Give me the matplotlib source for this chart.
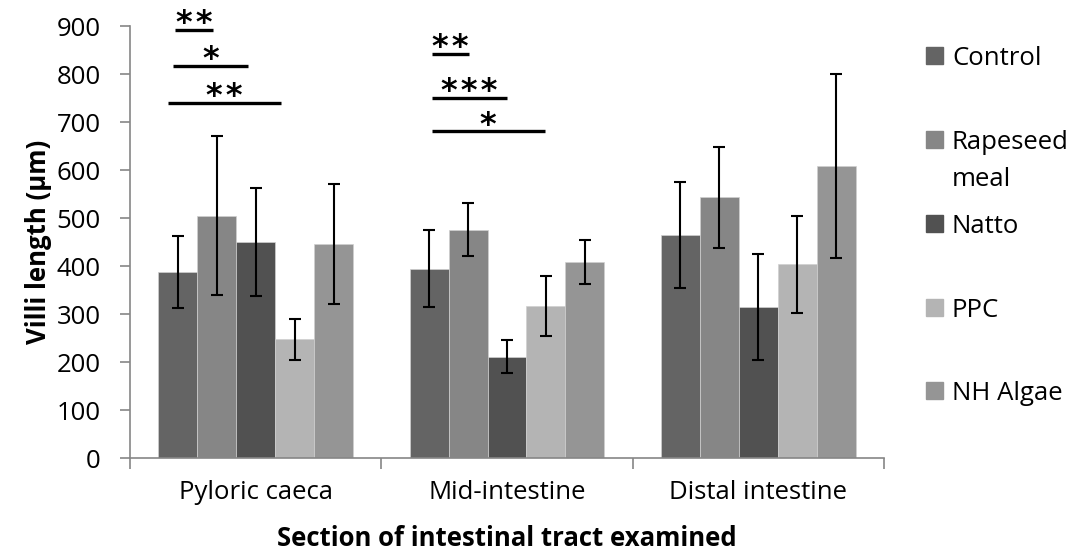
import numpy as np
import matplotlib.pyplot as plt
from matplotlib.patches import Rectangle

plt.rcParams['font.family'] = ['Open Sans', 'DejaVu Sans']

sections = ['Pyloric caeca', 'Mid-intestine', 'Distal intestine']
diets = ['Control', 'Rapeseed\nmeal', 'Natto', 'PPC', 'NH Algae']
colors = ['#646464', '#868686', '#515151', '#b4b4b4', '#959595']

# mean villi length per diet, one value per section
control = [388, 394, 465]
rapeseed = [505, 476, 543]
natto = [450, 211, 315]
ppc = [247, 317, 404]
nh_algae = [446, 408, 609]

control_sd = [75, 80, 111]
rapeseed_sd = [166, 56, 105]
natto_sd = [112, 34, 110]
ppc_sd = [42, 62, 101]
nh_algae_sd = [125, 46, 192]

means = [control, rapeseed, natto, ppc, nh_algae]
sds = [control_sd, rapeseed_sd, natto_sd, ppc_sd, nh_algae_sd]

# significance bars: (x start, x end, height, stars)
sig_bars = [
    (-0.32, -0.17, 892, '**'),
    (-0.33, -0.03, 817, '*'),
    (-0.35, 0.10, 740, '**'),
    (0.70, 0.85, 842, '**'),
    (0.70, 1.00, 751, '***'),
    (0.70, 1.15, 681, '*'),
]

ind = np.arange(len(sections))
width = 0.155
fs = 18.5

fig = plt.figure(figsize=(10.89, 5.52), dpi=100)
ax = fig.add_axes([130/1089, 1 - 458/552, 754/1089, 432/552])

for i in range(len(diets)):
    ax.bar(ind + (i - 2) * width, means[i], width, color=colors[i],
           edgecolor='#d0d0d0', linewidth=0.5,
           yerr=sds[i], error_kw=dict(ecolor='black', elinewidth=1.5,
                                       capsize=4.5, capthick=1.5))

for x0, x1, h, stars in sig_bars:
    ax.plot([x0, x1], [h, h], color='black', lw=2.4, solid_capstyle='butt')
    # a hair space between the asterisks keeps them apart
    ax.text((x0 + x1) / 2, h - 5, '\u200a'.join(stars), ha='center',
            va='baseline', fontsize=23, fontweight='bold',
            fontfamily='DejaVu Sans')

ax.set_xlim(-0.5, 2.5)
ax.set_ylim(0, 900)
ax.set_yticks(range(0, 901, 100))
ax.set_xticks(ind)
ax.set_xticklabels(sections, fontsize=fs)
ax.set_xticks([-0.5, 0.5, 1.5, 2.5], minor=True)
ax.tick_params(axis='x', which='major', length=0, pad=16)
ax.tick_params(axis='x', which='minor', length=8, color='#868686', width=1.2)
ax.tick_params(axis='y', length=7, color='#868686', width=1.2, labelsize=fs, pad=14)
for s in ['top', 'right']:
    ax.spines[s].set_visible(False)
for s in ['left', 'bottom']:
    ax.spines[s].set_color('#868686')
    ax.spines[s].set_linewidth(1.2)

ax.set_ylabel('Villi length (µm)', fontsize=fs, fontweight='bold', labelpad=3)
ax.set_xlabel('Section of intestinal tract examined', fontsize=fs,
              fontweight='bold', labelpad=14)

# legend on the right, one slot per diet; wrapped names drop to a second line
legend_y = [56, 140, 224, 308, 391]
for name, c, y in zip(diets, colors, legend_y):
    fig.add_artist(Rectangle((926/1089, 1 - (y + 8)/552), 17/1089, 17/552,
                             transform=fig.transFigure, color=c))
    for j, line in enumerate(name.split('\n')):
        fig.text(952/1089, 1 - (y + 9 + 37 * j)/552, line, fontsize=fs,
                 va='baseline', ha='left')

fig.savefig('out.png', dpi=100)
